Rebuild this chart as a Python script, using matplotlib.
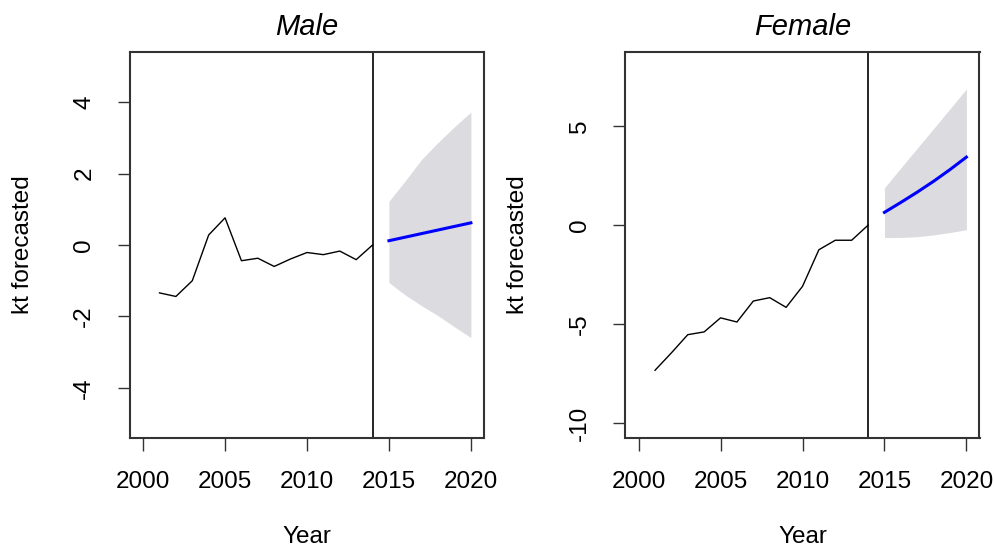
import matplotlib
matplotlib.use("Agg")
import matplotlib.pyplot as plt

plt.rcParams['font.family'] = ['Liberation Sans', 'DejaVu Sans']

# observed kt index, 2001-2014
years = list(range(2001, 2015))
male_kt = [-1.34, -1.44, -1.00, 0.28, 0.76, -0.44, -0.37, -0.60, -0.39,
           -0.21, -0.27, -0.17, -0.41, 0.00]
female_kt = [-7.33, -6.45, -5.53, -5.39, -4.68, -4.89, -3.83, -3.66, -4.15,
             -3.09, -1.24, -0.76, -0.76, 0.00]

# forecast 2015-2020 with 95% interval
fc_years = list(range(2015, 2021))
male_mean = [0.12, 0.22, 0.32, 0.42, 0.52, 0.62]
male_hi = [1.22, 1.80, 2.40, 2.87, 3.31, 3.72]
male_lo = [-1.05, -1.40, -1.70, -1.98, -2.29, -2.59]
female_mean = [0.65, 1.15, 1.67, 2.22, 2.81, 3.44]
female_hi = [1.89, 2.89, 3.89, 4.88, 5.88, 6.88]
female_lo = [-0.62, -0.62, -0.58, -0.49, -0.37, -0.23]

x_ticks = [2000, 2005, 2010, 2015, 2020]
male_yticks = [-4, -2, 0, 2, 4]
female_yticks = [-10, -5, 0, 5]

W, H = 995, 548
fig = plt.figure(figsize=(W / 100, H / 100), dpi=100)


def panel(left, title, obs, mean, lo, hi, yticks, ylim):
    ax = fig.add_axes([left / W, (H - 438) / H, 354 / W, 386 / H])
    ax.fill_between(fc_years, lo, hi, color='#dbdbe0', linewidth=0)
    ax.plot(years, obs, color='black', linewidth=1.0)
    ax.plot(fc_years, mean, color='#0000ff', linewidth=2.2)
    ax.axvline(2014, color='black', linewidth=1.2)
    ax.set_xlim(1999.2, 2020.8)
    ax.set_ylim(*ylim)
    ax.set_xticks(x_ticks)
    ax.set_yticks(yticks)
    ax.set_yticklabels([str(t) for t in yticks], rotation=90, va='center')
    ax.tick_params(axis='both', length=9, width=1.0, labelsize=17.5,
                   color='#333333')
    ax.tick_params(axis='x', pad=15)
    ax.tick_params(axis='y', pad=16)
    for s in ax.spines.values():
        s.set_color('#333333')
        s.set_linewidth(1.5)
    ax.set_title(title, fontsize=21, style='italic', pad=12)
    ax.set_xlabel('Year', fontsize=17.5, va='center')
    ax.xaxis.set_label_coords(0.5, -(537 - 438) / 386)
    ax.set_ylabel('kt forecasted', fontsize=17.5, va='center')
    ax.yaxis.set_label_coords(-107 / 354, 0.5)
    return ax


panel(130, 'Male', male_kt, male_mean, male_lo, male_hi,
      male_yticks, (-5.4, 5.4))
panel(625.5, 'Female', female_kt, female_mean, female_lo, female_hi,
      female_yticks, (-10.75, 8.75))

fig.savefig('out.png', dpi=100, facecolor='white')
